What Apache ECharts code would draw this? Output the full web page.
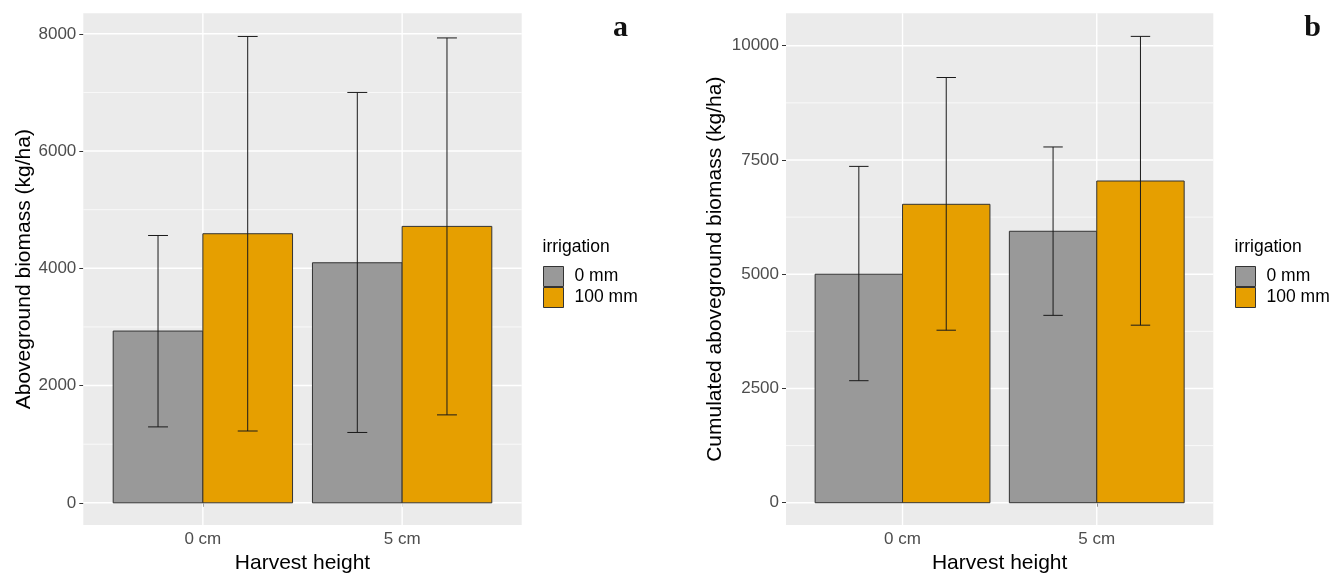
<!DOCTYPE html>
<html>
<head>
<meta charset="utf-8">
<script src="https://cdn.jsdelivr.net/npm/echarts@6/dist/echarts.min.js"></script>
<style>
html,body{margin:0;padding:0;background:#fff;}
#chart{width:1331px;height:579px;}
</style>
</head>
<body>
<div id="chart"></div>
<script>
// ---------- data ----------
const categories = ['0 cm', '5 cm'];
const groups = ['0 mm', '100 mm'];

// panel a: aboveground biomass (kg/ha)
const aGrayMean   = [2930, 4095];
const aGrayLo     = [1295, 1200];
const aGrayHi     = [4560, 7000];
const aOrangeMean = [4590, 4715];
const aOrangeLo   = [1225, 1500];
const aOrangeHi   = [7955, 7930];
const aYTicks     = [0, 2000, 4000, 6000, 8000];
const aYMinor     = [1000, 3000, 5000, 7000];

// panel b: cumulated aboveground biomass (kg/ha)
const bGrayMean   = [5000, 5940];
const bGrayLo     = [2670, 4100];
const bGrayHi     = [7360, 7785];
const bOrangeMean = [6530, 7040];
const bOrangeLo   = [3775, 3885];
const bOrangeHi   = [9305, 10205];
const bYTicks     = [0, 2500, 5000, 7500, 10000];
const bYMinor     = [1250, 3750, 6250, 8750];

const xTicks = [1, 2];

// ---------- style ----------
const FONT = "'Liberation Sans', Arial, sans-serif";
const GRAY = '#999999';
const ORANGE = '#E69F00';
const X_MIN = 0.4, X_MAX = 2.6;
const BAR_HALF = 0.45;   // each dodged bar is 0.45 wide
const CAP = 0.05;        // half width of error bar caps

const panels = [
  {grid:{left:83.3, top:13.3, width:438.4, height:517.4}, yMin:-380, yMax:8350,
   gray:[aGrayMean,aGrayLo,aGrayHi], orange:[aOrangeMean,aOrangeLo,aOrangeHi],
   ticks:aYTicks, minor:aYMinor, yName:'Aboveground biomass (kg/ha)', yGap:46,
   legendLeft:543, letter:'a', letterX:620.5},
  {grid:{left:786, top:13.3, width:427.3, height:517.4}, yMin:-490, yMax:10710,
   gray:[bGrayMean,bGrayLo,bGrayHi], orange:[bOrangeMean,bOrangeLo,bOrangeHi],
   ticks:bYTicks, minor:bYMinor, yName:'Cumulated aboveground biomass (kg/ha)', yGap:60,
   legendLeft:1235, letter:'b', letterX:1312.5}
];

function hLine(p, width){
  return function(params, api){
    const v = api.value(0);
    const a = api.coord([X_MIN, v]), b = api.coord([X_MAX, v]);
    return {type:'line', shape:{x1:a[0], y1:a[1], x2:b[0], y2:b[1]},
            style:{stroke:'#FFFFFF', lineWidth:width}};
  };
}
function vLine(p, width){
  return function(params, api){
    const v = api.value(0);
    const a = api.coord([v, p.yMin]), b = api.coord([v, p.yMax]);
    return {type:'line', shape:{x1:a[0], y1:a[1], x2:b[0], y2:b[1]},
            style:{stroke:'#FFFFFF', lineWidth:width}};
  };
}
function barRender(offset){
  return function(params, api){
    const x = api.value(0), v = api.value(1);
    const p0 = api.coord([x + offset, v]);
    const p1 = api.coord([x + offset + BAR_HALF, 0]);
    return {type:'rect',
      shape:{x:p0[0], y:p0[1], width:p1[0]-p0[0], height:p1[1]-p0[1]},
      style:{fill:api.visual('color'), stroke:'#333333', lineWidth:1}};
  };
}
function errRender(params, api){
  const x = api.value(0), lo = api.value(1), hi = api.value(2);
  const t = api.coord([x, hi]), b = api.coord([x, lo]);
  const tl = api.coord([x-CAP, hi]), tr = api.coord([x+CAP, hi]);
  const bl = api.coord([x-CAP, lo]), br = api.coord([x+CAP, lo]);
  const st = {stroke:'#1A1A1A', lineWidth:1};
  return {type:'group', children:[
    {type:'line', shape:{x1:t[0],y1:t[1],x2:b[0],y2:b[1]}, style:st},
    {type:'line', shape:{x1:tl[0],y1:tl[1],x2:tr[0],y2:tr[1]}, style:st},
    {type:'line', shape:{x1:bl[0],y1:bl[1],x2:br[0],y2:br[1]}, style:st}
  ]};
}

const option = {
  backgroundColor:'#FFFFFF',
  animation:false,
  textStyle:{fontFamily:FONT},
  grid:[], xAxis:[], yAxis:[], series:[], legend:[], graphic:[]
};

panels.forEach((p, i) => {
  option.grid.push(Object.assign({show:true, backgroundColor:'#EBEBEB', borderWidth:0, containLabel:false}, p.grid));
  option.xAxis.push({
    type:'value', gridIndex:i, min:X_MIN, max:X_MAX,
    axisLine:{show:false}, splitLine:{show:false},
    axisTick:{show:true, customValues:xTicks, length:4, lineStyle:{color:'#333333', width:1}},
    axisLabel:{customValues:xTicks, formatter:v => categories[Math.round(v)-1] || '',
               color:'#4D4D4D', fontSize:17, fontFamily:FONT, margin:6},
    name:'Harvest height', nameLocation:'middle', nameGap:26,
    nameTextStyle:{color:'#000000', fontSize:21, fontFamily:FONT}
  });
  option.yAxis.push({
    type:'value', gridIndex:i, min:p.yMin, max:p.yMax,
    axisLine:{show:false}, splitLine:{show:false},
    axisTick:{show:true, customValues:p.ticks, length:4, lineStyle:{color:'#333333', width:1}},
    axisLabel:{customValues:p.ticks, formatter:v => String(v),
               color:'#4D4D4D', fontSize:17, fontFamily:FONT, margin:7},
    name:p.yName, nameLocation:'middle', nameGap:p.yGap,
    nameTextStyle:{color:'#000000', fontSize:21, fontFamily:FONT}
  });
  // grid lines
  option.series.push({type:'custom', xAxisIndex:i, yAxisIndex:i, z:1, silent:true,
    renderItem:hLine(p, 0.7), data:p.minor.map(v => [v])});
  option.series.push({type:'custom', xAxisIndex:i, yAxisIndex:i, z:1, silent:true,
    renderItem:hLine(p, 1.4), data:p.ticks.map(v => [v])});
  option.series.push({type:'custom', xAxisIndex:i, yAxisIndex:i, z:1, silent:true,
    renderItem:vLine(p, 1.4), data:xTicks.map(v => [v])});
  // bars
  option.series.push({type:'custom', name:groups[0], xAxisIndex:i, yAxisIndex:i, z:2,
    itemStyle:{color:GRAY}, renderItem:barRender(-BAR_HALF),
    data:p.gray[0].map((v, k) => [xTicks[k], v])});
  option.series.push({type:'custom', name:groups[1], xAxisIndex:i, yAxisIndex:i, z:2,
    itemStyle:{color:ORANGE}, renderItem:barRender(0),
    data:p.orange[0].map((v, k) => [xTicks[k], v])});
  // error bars
  option.series.push({type:'custom', xAxisIndex:i, yAxisIndex:i, z:3, silent:true,
    renderItem:errRender,
    data:p.gray[0].map((v, k) => [xTicks[k]-BAR_HALF/2, p.gray[1][k], p.gray[2][k]])
      .concat(p.orange[0].map((v, k) => [xTicks[k]+BAR_HALF/2, p.orange[1][k], p.orange[2][k]]))});
  // legend
  option.legend.push({
    data:groups, orient:'vertical', left:p.legendLeft, top:266, itemGap:0, padding:0,
    itemWidth:20, itemHeight:20, icon:'rect', selectedMode:false,
    itemStyle:{borderColor:'#333333', borderWidth:1},
    textStyle:{color:'#000000', fontSize:17.5, fontFamily:FONT, padding:[0,0,0,6]}
  });
  option.graphic.push({type:'text', left:p.legendLeft - 0.5, top:238,
    style:{text:'irrigation', fill:'#000000', fontSize:17.5, fontFamily:FONT}});
  option.graphic.push({type:'text', x:p.letterX, y:28,
    style:{text:p.letter, fill:'#111111', fontSize:30, fontWeight:'bold',
           fontFamily:"'Liberation Serif', 'DejaVu Serif', serif",
           align:'center', verticalAlign:'middle'}});
});

const chart = echarts.init(document.getElementById('chart'), null, {renderer:'canvas'});
chart.setOption(option);
</script>
</body>
</html>
